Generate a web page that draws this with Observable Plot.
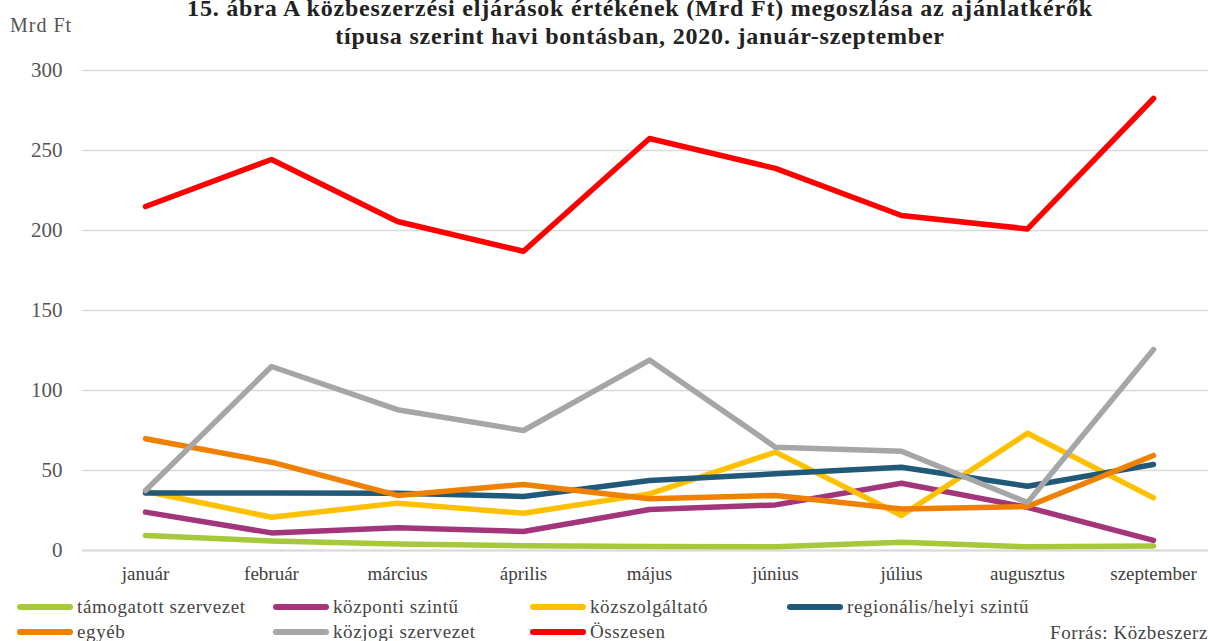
<!DOCTYPE html>
<html>
<head>
<meta charset="utf-8">
<script src="https://cdn.jsdelivr.net/npm/d3@7"></script>
<script src="https://cdn.jsdelivr.net/npm/@observablehq/plot@0.6"></script>
<style>
  html, body { margin: 0; padding: 0; background: #fff; overflow: hidden; }
  #wrap { position: relative; width: 1208px; height: 641px; overflow: hidden; font-family: "Liberation Serif", serif; color: #404040; }
  #title { position: absolute; left: 0; width: 1280px; top: -6px; text-align: center; font-weight: bold; font-size: 24px; letter-spacing: 0.8px; line-height: 28px; color: #222; }
  #unit { position: absolute; left: 10px; top: 14px; font-size: 20px; letter-spacing: 1px; color: #555; }
  #legend { position: absolute; left: 0; top: 595px; width: 1208px; font-size: 19px; letter-spacing: 0.6px; color: #444; }
  .li { position: absolute; display: flex; align-items: center; white-space: nowrap; height: 24px; }
  .sw { display: inline-block; width: 56px; height: 6px; border-radius: 3px; margin-right: 4px; }
  #source { position: absolute; left: 1050px; top: 622px; font-size: 19px; letter-spacing: 0.6px; color: #444; white-space: nowrap; }
  svg { position: absolute; left: 0; top: 0; }
</style>
</head>
<body>
<div id="wrap">
  <div id="chart"></div>
  <div id="title">15. ábra A közbeszerzési eljárások értékének (Mrd Ft) megoszlása az ajánlatkérők<br>típusa szerint havi bontásban, 2020. január-szeptember</div>
  <div id="unit">Mrd Ft</div>
  <div id="legend"></div>
  <div id="source">Forrás: Közbeszerzési Hatóság</div>
</div>
<script>
const months = ["január","február","március","április","május","június","július","augusztus","szeptember"];
const seriesNames = ["támogatott szervezet","központi szintű","közszolgáltató","regionális/helyi szintű","egyéb","közjogi szervezet","Összesen"];
const seriesColors = ["#a5c93a","#a3367a","#ffc000","#215a78","#f08000","#a6a6a6","#ff0000"];
const tamogatott = [9.4, 6, 4, 3, 2.5, 2.3, 5.2, 2.3, 2.8];
const kozponti = [24, 11, 14.2, 11.9, 25.6, 28.5, 42, 27, 6.3];
const kozszolgaltato = [37, 20.8, 29.6, 23.3, 35.4, 61.5, 21.9, 73.3, 32.9];
const regionalis = [36, 36, 35.8, 33.8, 43.8, 47.9, 52, 40.2, 53.8];
const egyeb = [69.8, 55.2, 34.4, 41.3, 32.3, 34.4, 26, 27.5, 59.4];
const kozjogi = [37.5, 115, 88, 75, 119, 64.6, 62, 30, 125.6];
const osszesen = [215, 244.4, 205.6, 187, 257.5, 238.8, 209.4, 201, 282.5];
const yTicks = [0, 50, 100, 150, 200, 250, 300];

const seriesValues = [tamogatott, kozponti, kozszolgaltato, regionalis, egyeb, kozjogi, osszesen];
const data = [];
seriesNames.forEach((s, i) => months.forEach((m, j) => data.push({series: s, month: m, value: seriesValues[i][j]})));

const chart = Plot.plot({
  width: 1208,
  height: 641,
  marginTop: 70,
  marginBottom: 91,
  marginLeft: 82,
  marginRight: 0,
  style: {fontFamily: "Liberation Serif, serif", fontSize: "20px", color: "#555", background: "transparent"},
  x: {type: "point", domain: months, range: [82, 1216], padding: 0.5, label: null},
  y: {domain: [0, 300], label: null, ticks: yTicks},
  color: {domain: seriesNames, range: seriesColors},
  marks: [
    Plot.gridY(yTicks, {stroke: "#d9d9d9", strokeOpacity: 1, strokeWidth: 1.5}),
    Plot.ruleY([0], {stroke: "#d9d9d9", strokeWidth: 2}),
    Plot.axisY(yTicks, {tickSize: 0, tickPadding: 20, fontSize: 21, fill: "#555"}),
    Plot.axisX({tickSize: 0, tickPadding: 16, fontSize: 19, fill: "#404040", style: {letterSpacing: "0.5px"}}),
    Plot.line(data, {x: "month", y: "value", z: "series", stroke: "series", strokeWidth: 5.5, strokeLinecap: "round", strokeLinejoin: "round"})
  ]
});
document.getElementById("chart").appendChild(chart);

const legend = document.getElementById("legend");
const colX = [17, 273, 530, 787];
seriesNames.forEach((s, i) => {
  const d = document.createElement("div");
  d.className = "li";
  d.style.left = colX[i % 4] + "px";
  d.style.top = (i < 4 ? 0 : 25) + "px";
  d.innerHTML = `<span class="sw" style="background:${seriesColors[i]}"></span><span>${s}</span>`;
  legend.appendChild(d);
});
</script>
</body>
</html>
